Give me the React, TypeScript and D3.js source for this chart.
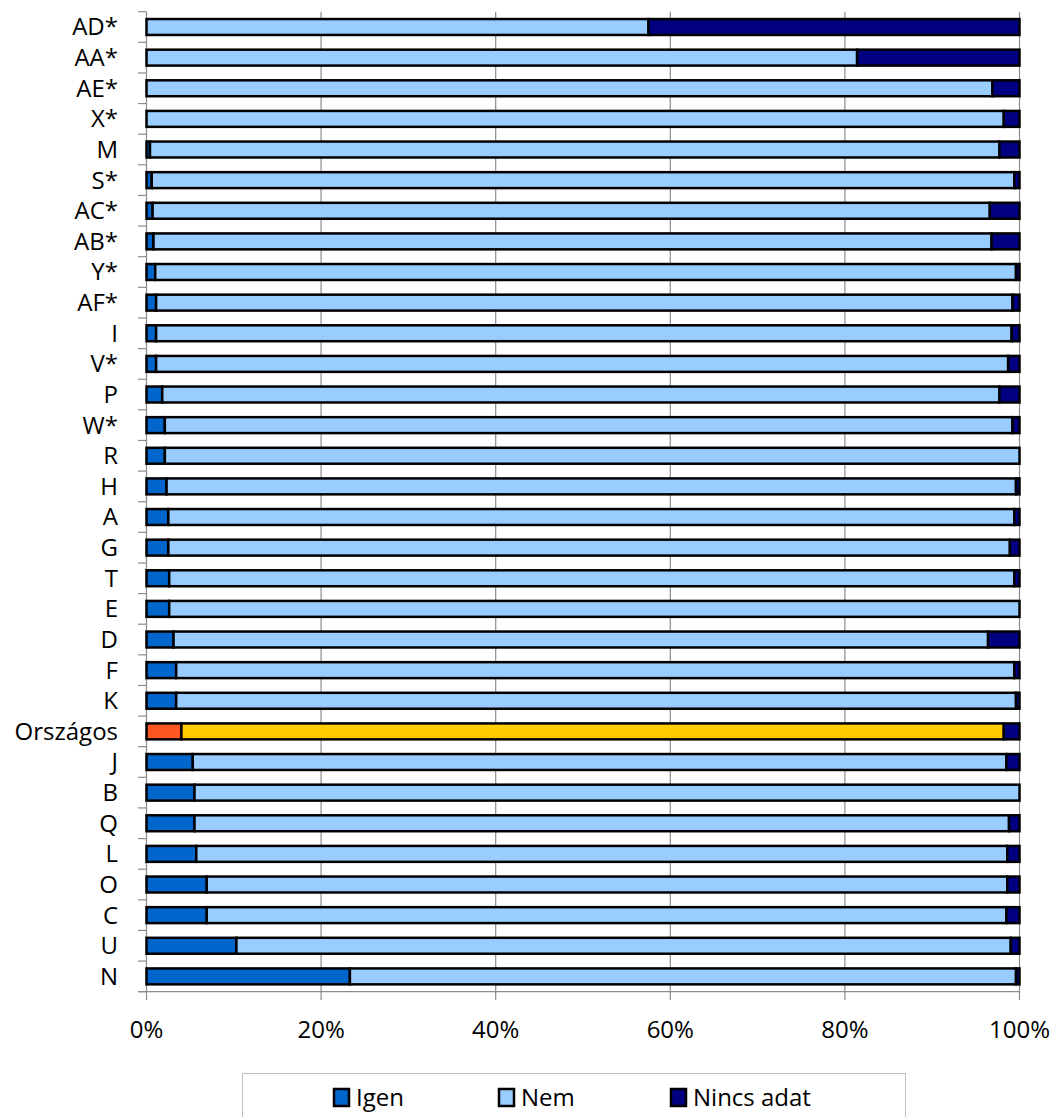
import React from "react";
import * as d3 from "d3";

const categories = ["AD*","AA*","AE*","X*","M","S*","AC*","AB*","Y*","AF*","I","V*","P","W*","R","H","A","G","T","E","D","F","K","Országos","J","B","Q","L","O","C","U","N"];
const igen = [0,0,0,0,0.4,0.6,0.7,0.8,1.0,1.1,1.1,1.1,1.8,2.1,2.1,2.3,2.5,2.5,2.6,2.6,3.1,3.4,3.4,4.0,5.3,5.5,5.5,5.7,6.9,6.9,10.3,23.3];
const nemEnd = [57.5,81.4,96.9,98.2,97.7,99.4,96.6,96.8,99.6,99.2,99.1,98.7,97.7,99.2,100,99.6,99.4,98.9,99.4,100,96.4,99.4,99.6,98.2,98.5,100,98.8,98.6,98.6,98.5,99.0,99.6];
const nem = nemEnd.map((e, i) => +(e - igen[i]).toFixed(1));
const nincs = nemEnd.map((e) => +(100 - e).toFixed(1));
const seriesNames = ["Igen", "Nem", "Nincs adat"];
const xTicks = [0, 20, 40, 60, 80, 100];

const colors = ["#0066CC", "#99CCFF", "#000080"];
const highlight = ["#FF5722", "#FFCC00", "#000080"];
const FONT = "'Open Sans', 'Noto Sans', sans-serif";

export default function App() {
  const W = 1059, H = 1117;
  const x = d3.scaleLinear().domain([0, 100]).range([146.5, 1019.5]);
  const y = d3.scaleBand().domain(categories).range([11.7, 991.7]).paddingInner(0.48).paddingOuter(0.24);
  const rows = categories.map((c, i) => ({ c, v: [igen[i], nem[i], nincs[i]] }));
  const band = y.step();
  const tickYs = d3.range(categories.length + 1).map((i) => 11.7 + i * band);
  return (
    <svg width={W} height={H} style={{ position: "absolute", left: 0, top: 0, background: "#fff" }}>
      {xTicks.map((t) => (
        <line key={"g" + t} x1={x(t)} x2={x(t)} y1={11.7} y2={1000} stroke="#8c8c8c" strokeWidth={1.2} />
      ))}
      {tickYs.map((ty, i) => (
        <line key={"ct" + i} x1={138} x2={146.5} y1={ty} y2={ty} stroke="#8c8c8c" strokeWidth={1.2} />
      ))}
      <line x1={138} x2={1019.5} y1={991.7} y2={991.7} stroke="#8c8c8c" strokeWidth={1.2} />
      {rows.map((r) => {
        let acc = 0;
        const pal = r.c === "Országos" ? highlight : colors;
        return (
          <g key={r.c}>
            {r.v.map((v, j) => {
              const x0 = x(acc);
              acc += v;
              const x1 = x(acc);
              if (v <= 0) return null;
              return (
                <rect key={j} x={x0} y={y(r.c)!} width={x1 - x0} height={y.bandwidth()} fill={pal[j]} stroke="#000" strokeWidth={2.5} />
              );
            })}
            <text x={118} y={y(r.c)! + y.bandwidth() / 2} dy="0.35em" textAnchor="end" fontFamily={FONT} fontSize={24} fill="#000">{r.c}</text>
          </g>
        );
      })}
      {xTicks.map((t) => (
        <text key={"t" + t} x={x(t)} y={1038} textAnchor="middle" fontFamily={FONT} fontSize={24} fill="#000">{t}%</text>
      ))}
      <rect x={242.5} y={1073.5} width={663} height={60} fill="#fff" stroke="#bfbfbf" strokeWidth={1} />
      {seriesNames.map((s, i) => {
        const lx = [334, 499, 671][i];
        return (
          <g key={s}>
            <rect x={lx} y={1089} width={15} height={17} fill={colors[i]} stroke="#000" strokeWidth={2.5} />
            <text x={lx + 22} y={1106} fontFamily={FONT} fontSize={24} fill="#000">{s}</text>
          </g>
        );
      })}
    </svg>
  );
}
